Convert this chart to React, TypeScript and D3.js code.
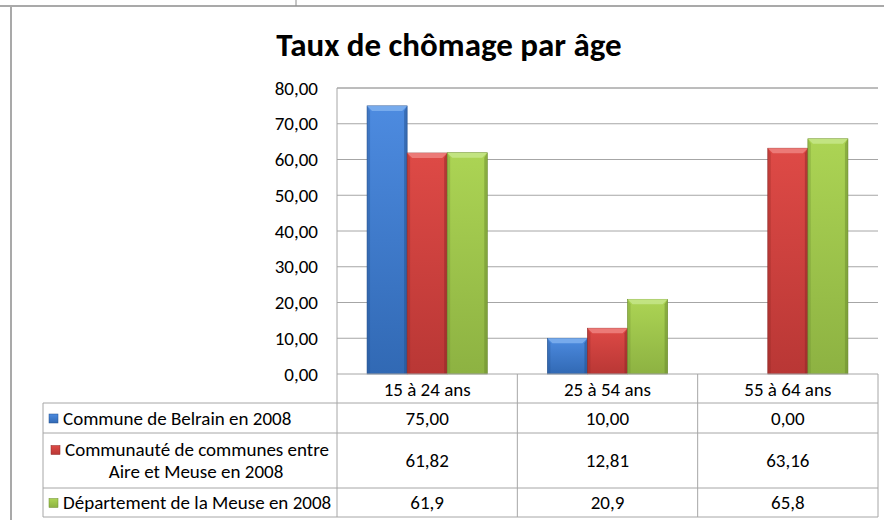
import React from 'react';
import * as d3 from 'd3';

const title = 'Taux de chômage par âge';
const categories = ['15 à 24 ans', '25 à 54 ans', '55 à 64 ans'];
const seriesNames = [
  ['Commune de Belrain en 2008'],
  ['Communauté de communes entre', 'Aire et Meuse en 2008'],
  ['Département de la Meuse en 2008'],
];
const belrain = [75.0, 10.0, 0.0];
const communaute = [61.82, 12.81, 63.16];
const meuse = [61.9, 20.9, 65.8];
const tableLabels = [
  ['75,00', '10,00', '0,00'],
  ['61,82', '12,81', '63,16'],
  ['61,9', '20,9', '65,8'],
];
const yTicks = [0, 10, 20, 30, 40, 50, 60, 70, 80];

const palette = [
  { topC: '#4d8be0', botC: '#3169b4', dark: '#24508c', bevel: '#7fb0ee' },
  { topC: '#de4a46', botC: '#b93735', dark: '#8c2725', bevel: '#ee8380' },
  { topC: '#acd454', botC: '#8db242', dark: '#6a8a2e', bevel: '#c6e68a' },
];

const FONT = 'Carlito, Lato, "Open Sans", sans-serif';
const FS = 19;

export default function App() {
  const values = [belrain, communaute, meuse];
  const plotLeft = 337;
  const plotRight = 878;
  const plotTop = 88;
  const plotBottom = 374;
  const tableLeft = 43;
  const rowLines = [374, 403, 433, 488, 517];

  const x0 = d3.scaleBand<string>().domain(categories).range([plotLeft, plotRight]).padding(0);
  const bw = x0.bandwidth();
  const x1 = d3.scaleBand<number>().domain([0, 1, 2]).range([bw / 6, (bw * 5) / 6]).padding(0);
  const y = d3.scaleLinear().domain([0, 80]).range([plotBottom, plotTop]);

  const grid = '#a6a6a6';

  return (
    <svg width={884} height={520} style={{ position: 'absolute', left: 0, top: 0, background: '#fff' }}>
      <defs>
        {palette.map((p, i) => (
          <linearGradient key={i} id={`g${i}`} x1="0" x2="0" y1="0" y2="1">
            <stop offset="0%" stopColor={p.topC} />
            <stop offset="100%" stopColor={p.botC} />
          </linearGradient>
        ))}
      </defs>

      {/* surrounding page lines */}
      <line x1={0} x2={884} y1={6} y2={6} stroke="#8c8c8c" strokeWidth={1.5} />
      <line x1={296} x2={296} y1={0} y2={6} stroke="#8c8c8c" />
      <line x1={11} x2={11} y1={7} y2={520} stroke="#8c8c8c" strokeWidth={1.5} />

      <text x={449} y={56} textAnchor="middle" fontFamily={FONT} fontWeight="bold" fontSize={33} fill="#000">
        {title}
      </text>

      {/* gridlines */}
      {yTicks.filter(t => t > 0).map(t => (
        <line key={t} x1={plotLeft} x2={plotRight} y1={y(t)} y2={y(t)} stroke={grid} />
      ))}
      {yTicks.map(t => (
        <text key={t} x={318} y={y(t)} dy="0.35em" textAnchor="end" fontFamily={FONT} fontSize={FS} fill="#000">
          {d3.format('.2f')(t).replace('.', ',')}
        </text>
      ))}

      {/* bars */}
      {categories.map((c, ci) => (
        <g key={c} transform={`translate(${x0(c)},0)`}>
          {values.map((vals, si) => {
            const v = vals[ci];
            if (v <= 0) return null;
            const bx = x1(si)!;
            const w = x1.bandwidth();
            const top = y(v);
            const b = 5;
            const p = palette[si];
            return (
              <g key={si}>
                <rect x={bx} y={top} width={w} height={plotBottom - top} fill={`url(#g${si})`} stroke={p.dark} strokeWidth={0.6} />
                <polygon
                  points={`${bx},${top} ${bx + w},${top} ${bx + w - b},${top + b} ${bx + b},${top + b}`}
                  fill={p.bevel}
                  opacity={0.85}
                />
                <polygon
                  points={`${bx},${top} ${bx + 3},${top + b} ${bx + 3},${plotBottom} ${bx},${plotBottom}`}
                  fill={p.dark}
                  opacity={0.3}
                />
                <polygon
                  points={`${bx + w},${top} ${bx + w - 3},${top + b} ${bx + w - 3},${plotBottom} ${bx + w},${plotBottom}`}
                  fill={p.dark}
                  opacity={0.5}
                />
              </g>
            );
          })}
        </g>
      ))}

      {/* data table */}
      <line x1={plotLeft} x2={plotLeft} y1={plotTop} y2={517} stroke={grid} />
      <line x1={plotLeft} x2={plotRight} y1={plotTop} y2={plotTop} stroke={grid} />
      {categories.map(c => (
        <line key={c} x1={x0(c)! + bw} x2={x0(c)! + bw} y1={374} y2={517} stroke={grid} />
      ))}
      <line x1={tableLeft} x2={tableLeft} y1={403} y2={517} stroke={grid} />
      {rowLines.map((ry, i) => (
        <line key={ry} x1={i === 0 ? plotLeft : tableLeft} x2={plotRight} y1={ry} y2={ry} stroke={grid} />
      ))}
      {categories.map(c => (
        <text key={c} x={x0(c)! + bw / 2} y={389} dy="0.35em" textAnchor="middle" fontFamily={FONT} fontSize={FS}>
          {c}
        </text>
      ))}
      {tableLabels.map((row, si) => {
        const cy = (rowLines[si + 1] + rowLines[si + 2]) / 2;
        const p = palette[si];
        const names = seriesNames[si];
        const lineY = names.length === 1 ? [cy] : [cy - 11, cy + 11];
        return (
          <g key={si}>
            {row.map((t, ci) => (
              <text key={ci} x={x0(categories[ci])! + bw / 2} y={cy} dy="0.35em" textAnchor="middle" fontFamily={FONT} fontSize={FS}>
                {t}
              </text>
            ))}
            <rect x={names.length === 1 ? 49 : 51} y={lineY[0] - 4} width={9} height={9} fill={`url(#g${si})`} stroke={p.dark} strokeWidth={0.5} />
            {names.length === 1 ? (
              <text x={63} y={lineY[0]} dy="0.35em" fontFamily={FONT} fontSize={FS}>
                {names[0]}
              </text>
            ) : (
              <>
                <text x={65} y={lineY[0]} dy="0.35em" fontFamily={FONT} fontSize={FS}>
                  {names[0]}
                </text>
                <text x={196} y={lineY[1]} dy="0.35em" textAnchor="middle" fontFamily={FONT} fontSize={FS}>
                  {names[1]}
                </text>
              </>
            )}
          </g>
        );
      })}
    </svg>
  );
}
